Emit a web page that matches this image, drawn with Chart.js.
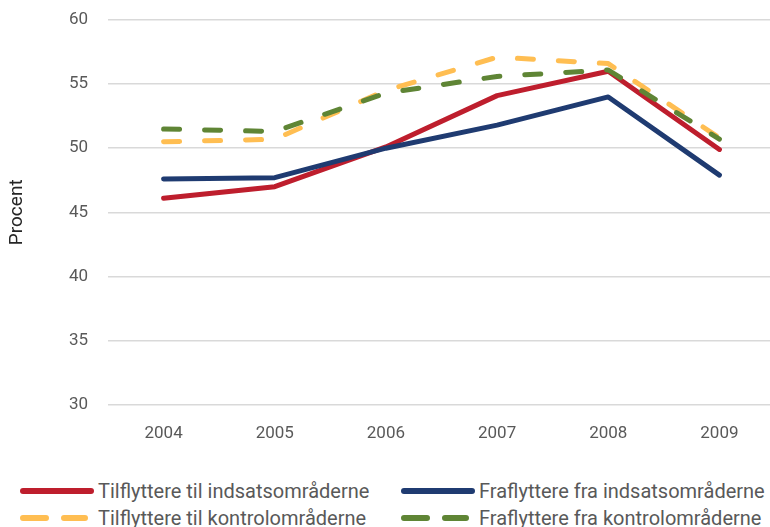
<!DOCTYPE html>
<html>
<head>
<meta charset="utf-8">
<script src="https://cdn.jsdelivr.net/npm/chart.js@4"></script>
<style>
  html, body { margin: 0; padding: 0; background: #fff; }
  body { width: 770px; height: 527px; overflow: hidden; position: relative; font-family: Roboto, "Noto Sans", sans-serif; }
  #wrap { position: relative; width: 775px; height: 463px; }
  #legend { position: absolute; left: 0; top: 479px; width: 770px; }
  .item { position: absolute; display: flex; align-items: center; color: #595959; font-size: 20px; white-space: nowrap; height: 24px; }
  .item svg { margin-right: 4px; }
</style>
</head>
<body>
<div id="wrap"><canvas id="chart"></canvas></div>
<div id="legend"></div>
<script>
const years = ['2004', '2005', '2006', '2007', '2008', '2009']
const yTicks = [30, 35, 40, 45, 50, 55, 60]

const tilIndsats = [46.1, 47.0, 50.1, 54.1, 56.0, 49.9]
const fraIndsats = [47.6, 47.7, 50.0, 51.8, 54.0, 47.9]
const tilKontrol = [50.5, 50.7, 54.5, 57.1, 56.6, 50.8]
const fraKontrol = [51.5, 51.3, 54.3, 55.6, 56.1, 50.7]

const seriesNames = [
  'Tilflyttere til indsatsområderne',
  'Fraflyttere fra indsatsområderne',
  'Tilflyttere til kontrolområderne',
  'Fraflyttere fra kontrolområderne'
]

const grey = '#595959'

function line(label, data, color, dashed, order) {
  return {
    label: label,
    data: data,
    borderColor: color,
    backgroundColor: color,
    borderWidth: 5,
    borderDash: dashed ? [16, 25] : [],
    borderCapStyle: 'round',
    borderJoinStyle: 'round',
    pointRadius: 0,
    tension: 0,
    order: order
  }
}

const datasets = [
  line(seriesNames[0], tilIndsats, '#BE1E2D', false, 4),
  line(seriesNames[1], fraIndsats, '#1F3B71', false, 3),
  line(seriesNames[2], tilKontrol, '#FFBE52', true, 2),
  line(seriesNames[3], fraKontrol, '#5F8535', true, 1)
]

new Chart(document.getElementById('chart'), {
  type: 'line',
  data: { labels: years, datasets: datasets },
  options: {
    responsive: true,
    maintainAspectRatio: false,
    animation: false,
    layout: { padding: { top: 20, right: 0, left: 6, bottom: 0 } },
    plugins: { legend: { display: false }, tooltip: { enabled: false } },
    scales: {
      x: {
        offset: true,
        grid: { display: false, drawTicks: false },
        border: { display: false },
        ticks: { color: grey, font: { family: 'Roboto', size: 17 }, padding: 19 }
      },
      y: {
        min: 30,
        max: 60,
        afterBuildTicks: (axis) => { axis.ticks = yTicks.map(v => ({ value: v })) },
        afterFit: (axis) => { axis.width = 102; axis.paddingTop = 0 },
        grid: { color: '#d9d9d9', lineWidth: 1.5, drawTicks: false },
        border: { display: false },
        ticks: { color: grey, font: { family: 'Roboto', size: 17 }, padding: 20 },
        title: { display: true, text: 'Procent', color: '#262626', font: { family: 'Roboto', size: 19 }, padding: 0 }
      }
    }
  }
})

// legend built from the same dataset list
const legend = document.getElementById('legend')
const spots = [[18, 0], [399, 0], [18, 27], [399, 27]]
datasets.forEach((ds, i) => {
  const el = document.createElement('div')
  el.className = 'item'
  el.style.left = spots[i][0] + 'px'
  el.style.top = spots[i][1] + 'px'
  const dashed = ds.borderDash.length > 0
  const x2 = dashed ? 67 : 73
  const dash = dashed ? 'stroke-dasharray="23 18"' : ''
  el.innerHTML = '<svg width="76" height="10"><line x1="5" y1="5" x2="' + x2 + '" y2="5" stroke="' + ds.borderColor +
    '" stroke-width="6" stroke-linecap="round" ' + dash + '/></svg><span>' + ds.label + '</span>'
  legend.appendChild(el)
})
</script>
</body>
</html>
